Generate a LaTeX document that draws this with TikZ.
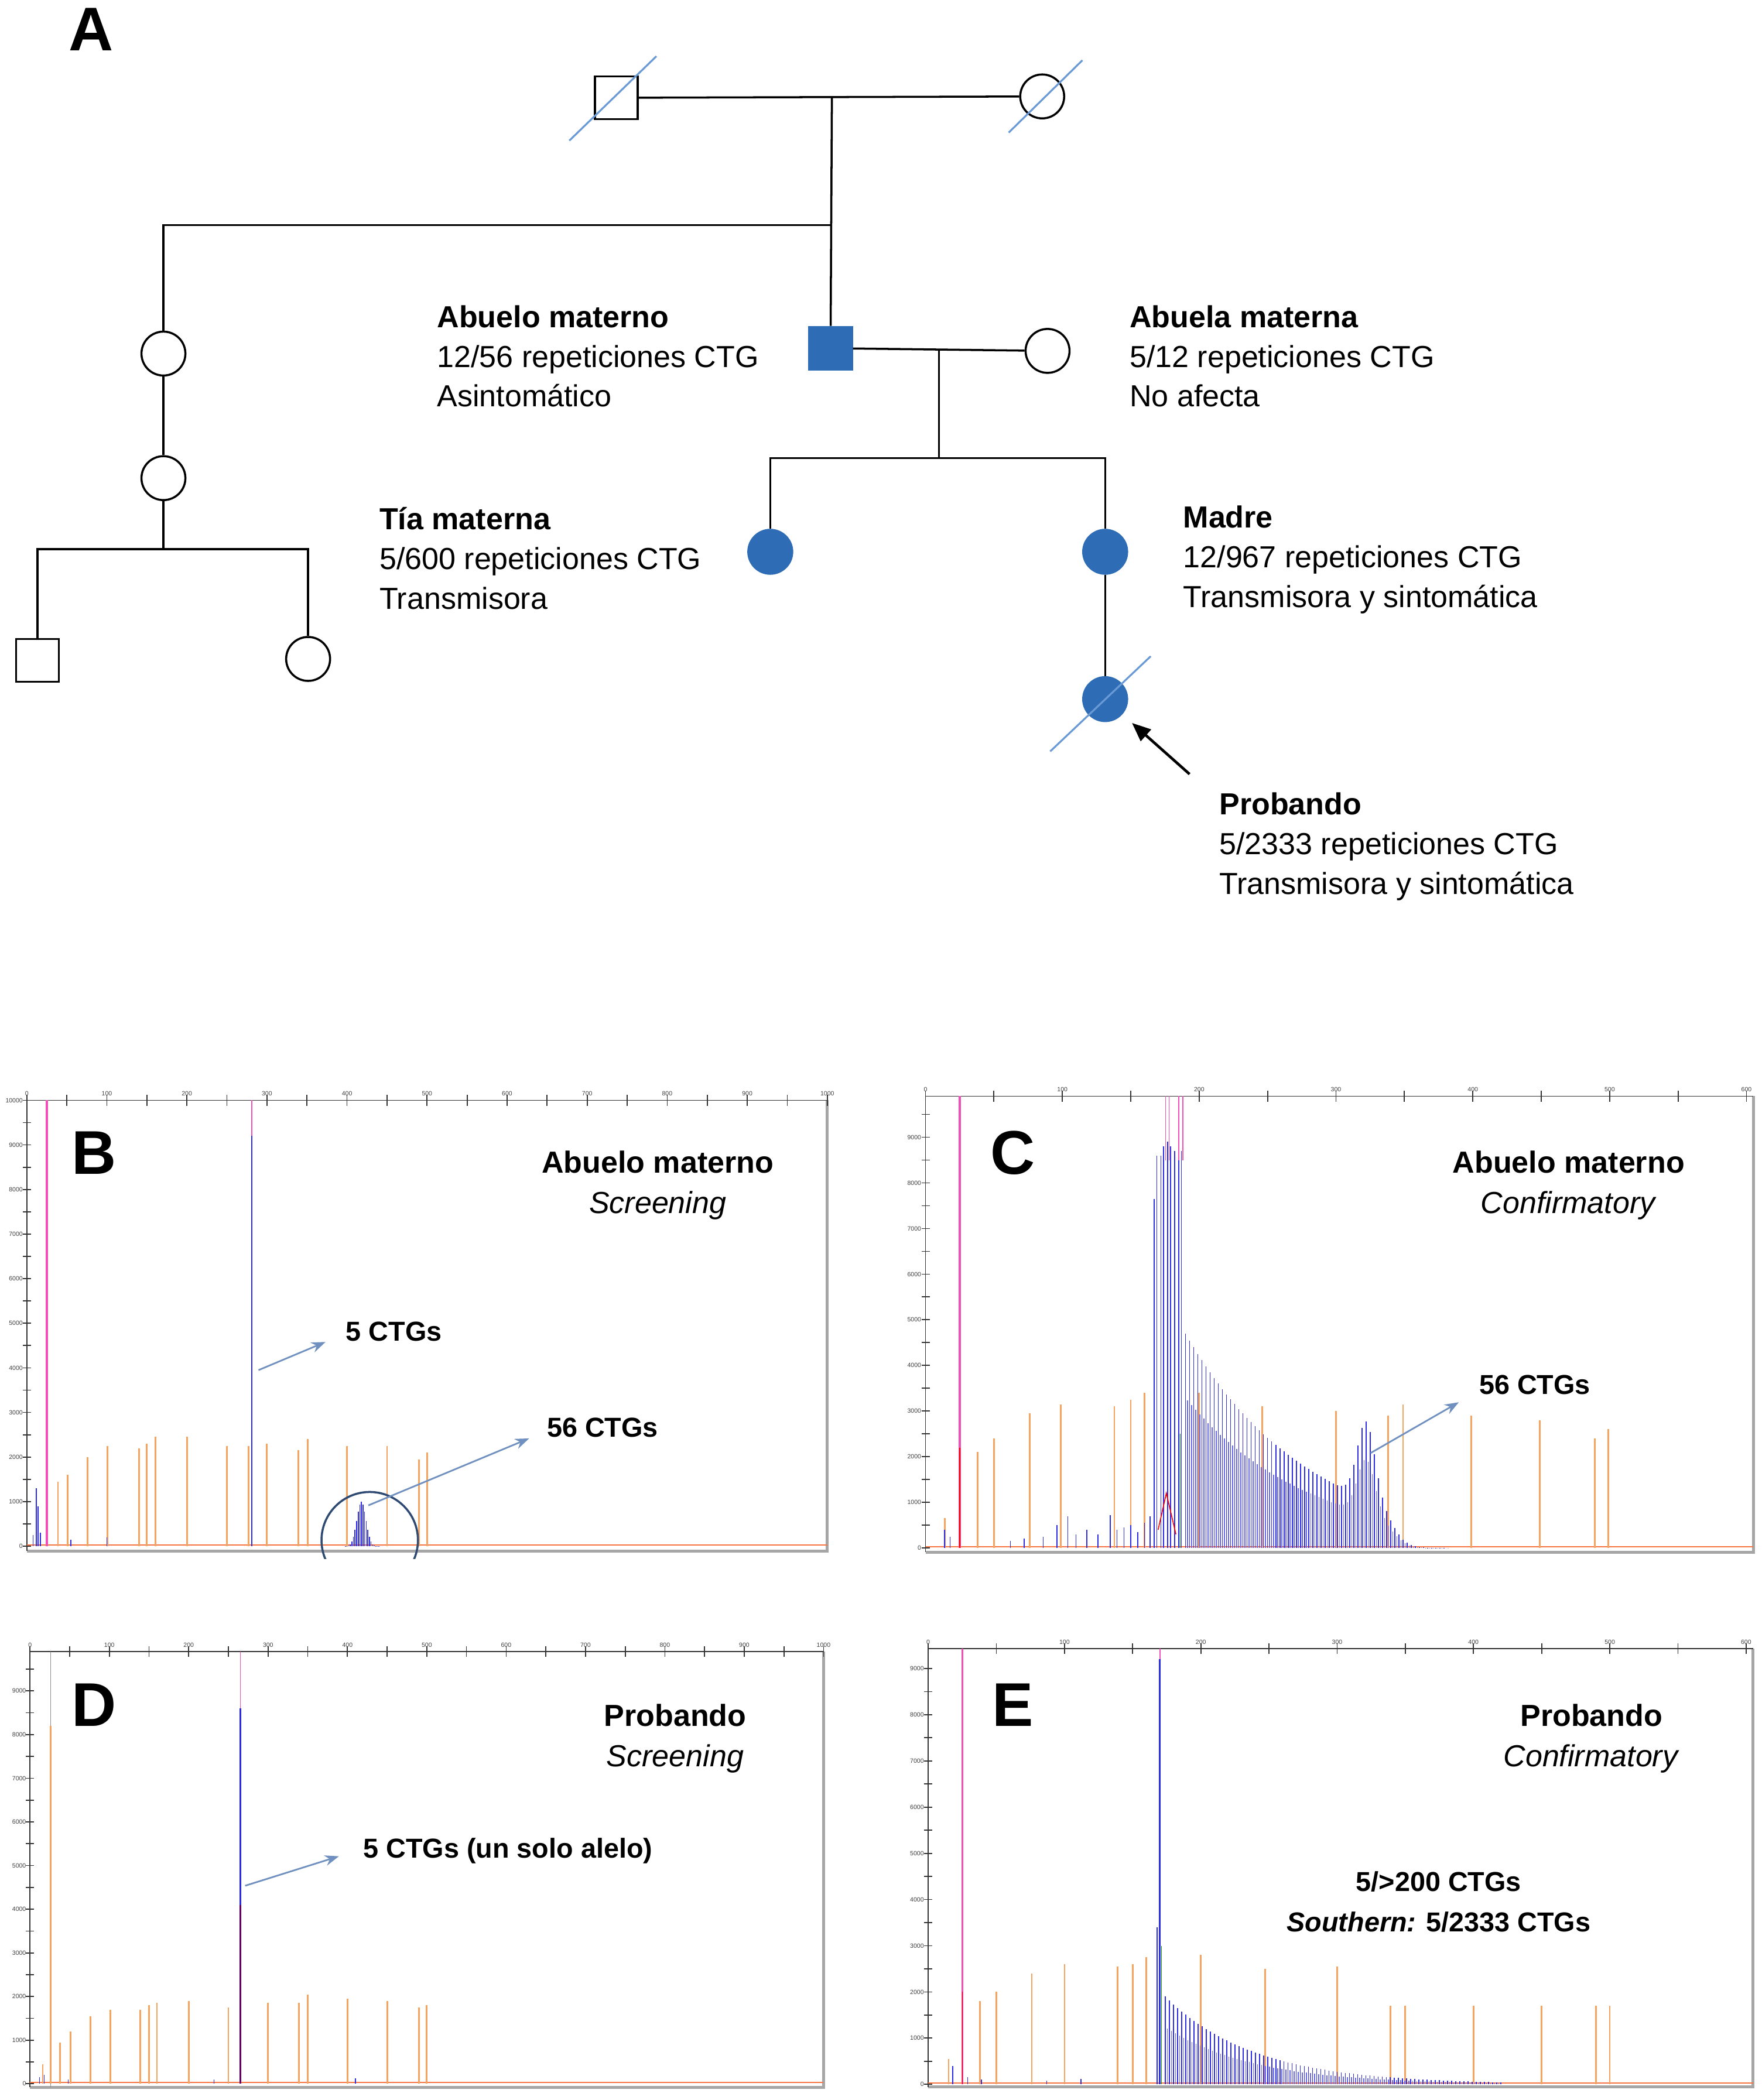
\documentclass[tikz,border=0pt]{standalone}
\usepackage{fontspec}
\setmainfont{Liberation Sans}
\usetikzlibrary{positioning,arrows.meta}
\definecolor{pedblue}{HTML}{2E6DB6}
\definecolor{slashblue}{HTML}{6A9AD6}
\definecolor{callblue}{HTML}{7090C0}
\definecolor{ringblue}{HTML}{2F4A72}
\definecolor{sizestd}{HTML}{F4A45E}
\definecolor{hotpink}{HTML}{F04FB4}
\definecolor{peakblue}{HTML}{2B2BE6}
\definecolor{peaklight}{HTML}{6666EE}
\tikzset{male/.style={rectangle,draw,line width=1pt,minimum size=0.73cm,inner sep=0pt},
	 female/.style={circle,draw,line width=1pt,minimum size=0.75cm,inner sep=0pt},
	 affected/.style={fill=pedblue,draw=pedblue},
	 rel/.style={line width=1pt},
	 dead/.style={draw=slashblue,line width=0.9pt},
	 info/.style={font=\fontsize{14.8}{19.3}\selectfont,align=left,inner sep=0pt,anchor=west},
	 panel/.style={font=\fontsize{30}{30}\selectfont\bfseries,inner sep=0pt},
	 ptitle/.style={font=\fontsize{14.8}{19.5}\selectfont,align=center,inner sep=0pt},
	 ctg/.style={font=\fontsize{13.3}{19.5}\selectfont\bfseries,inner sep=0pt},
	 callout/.style={draw=callblue,line width=0.8pt,-{Stealth[length=2.4mm,width=1.8mm]}},
	 ticklab/.style={font=\fontsize{3}{3}\selectfont,inner sep=0.6pt,text=black!75},
	 axisline/.style={line width=0.5pt,black!80},
	 frameline/.style={line width=1.4pt,black!35},
	 std/.style={draw=sizestd,line width=0.8pt},
	 peak/.style={draw=peakblue,line width=0.8pt},
	 thin/.style={line width=0.45pt},
	 hot/.style={draw=hotpink,line width=1pt},
	 noise/.style={draw=sizestd!70!red,line width=0.5pt}
	 }

\begin{document}
\begin{tikzpicture}[x=0.022875cm,y=-0.022875cm] % pedigree and fragment analysis
\useasboundingbox (0,0) rectangle (1315,1568);
% --- A: pedigree
\node[panel] (la) at (68,22) {A};
\node[male] (bisab) at (460,73) {};
\node[female] (bisaba) at (778,72) {};
\node[female] (tiabuela) at (122,264) {};
\node[female] (prima) at (122,357) {};
\node[male] (nieto) at (28,493) {};
\node[female] (nieta) at (230,492) {};
\node[male,affected] (abuelo) at (620,260) {};
\node[female] (abuela) at (782,262) {};
\node[female,affected] (tia) at (575,412) {};
\node[female,affected] (madre) at (825,412) {};
\node[female,affected] (probando) at (825,522) {};
\coordinate (c1) at (621,73);
\coordinate (s1) at (621,168);
\coordinate (s0) at (122,168);
\coordinate (p1) at (122,410);
\coordinate (p0) at (28,410);
\coordinate (p2) at (230,410);
\coordinate (m1) at (701,261);
\coordinate (m2) at (701,342);
\coordinate (parr) at (888,578);
\draw[rel] (bisab) -- (bisaba);
\draw[rel] (c1) -- (abuelo);
\draw[rel] (s1) -- (s0) -- (tiabuela);
\draw[rel] (tiabuela) -- (prima);
\draw[rel] (prima) -- (p1);
\draw[rel] (nieto) -- (p0) -- (p2) -- (nieta);
\draw[rel] (abuelo) -- (abuela);
\draw[rel] (m1) -- (m2);
\draw[rel] (tia) -- (tia |- m2) -- (madre |- m2) -- (madre);
\draw[rel] (madre) -- (probando);
\draw[dead] ([shift={(-35,32)}]bisab.center) -- ([shift={(30,-31)}]bisab.center);
\draw[dead] ([shift={(-25,27)}]bisaba.center) -- ([shift={(30,-27)}]bisaba.center);
\draw[dead] ([shift={(-41,39)}]probando.center) -- ([shift={(34,-32)}]probando.center);
\draw[line width=1.3pt,-{Triangle[length=3.2mm,width=2.6mm]},shorten >=0.22cm] (parr) -- (probando);
\node[info] (tabuelo) at (326,266) {\textbf{Abuelo materno}\\12/56 repeticiones CTG\\Asintomático};
\node[info] (tabuela) at (843,266) {\textbf{Abuela materna}\\5/12 repeticiones CTG\\No afecta};
\node[info] (ttia) at (283,417) {\textbf{Tía materna}\\5/600 repeticiones CTG\\Transmisora};
\node[info] (tmadre) at (883,418) {\textbf{Madre}\\12/967 repeticiones CTG\\Transmisora y sintomática};
\node[info] (tprob) at (910,632) {\textbf{Probando}\\5/2333 repeticiones CTG\\Transmisora y sintomática};

% --- B: abuelo, screening
\begin{scope}[shift={(20,1154.5)},xscale=0.5976,yscale=-0.0333]
  \draw[frameline] (0,-105) -- (1000,-105) -- (1000,10000);
  \draw[axisline] (0,-105) -- (0,10000) -- (1000,10000);
  \foreach \t in {0,50,...,1000} \draw[axisline] (\t,9880) -- (\t,10120);
  \foreach \t in {0,100,...,1000} \node[ticklab,above] (bx\t) at (\t,10060) {\t};
  \foreach \v in {0,500,...,10000} \draw[axisline] (-5,\v) -- (5,\v);
  \foreach \v in {0,1000,...,10000} \node[ticklab,left] (by\v) at (-3,\v) {\v};
  \draw[noise] (0,30) -- (1000,30);
  \foreach \x/\h in {39/1450,51/1600,76/2000,101/2250,140/2200,150/2300,161/2450,200/2450,250/2250,277/2250,300/2300,339/2150,351/2400,400/2250,450/2250,490/1950,500/2100}
    \draw[std] (\x,0) -- (\x,\h);
  \draw[hot] (25,0) -- (25,10000);
  \foreach \x/\h in {8/250,12/1300,14/900,17/300,55/150,100/200}
    \draw[peak,thin] (\x,0) -- (\x,\h);
  \draw[peak] (281,0) -- (281,9200);
  \draw[hot,thin] (281,9200) -- (281,10000);
  \foreach \x in {398,400,...,444}
    \draw[peak,thin] (\x,0) -- (\x,{1000*exp(-((\x-418)/8)*((\x-418)/8))});
\end{scope}
\begin{scope}
  \clip (200,1090) rectangle (340,1164);
  \draw[draw=ringblue,line width=1pt] (276,1150) circle [radius=36];
\end{scope}
\node[panel] (lb) at (70,861) {B};
\node[ptitle] (tb) at (491,885) {\textbf{Abuelo materno}\\\textit{Screening}};
\coordinate (b1s) at (193,1023);
\coordinate (b1e) at (243,1002);
\coordinate (b2s) at (275,1124);
\coordinate (b2e) at (395,1074);
\draw[callout] (b1s) -- (b1e);
\draw[callout] (b2s) -- (b2e);
\node[ctg,anchor=west] (b5) at (258,994) {5 CTGs};
\node[ctg,anchor=west] (b56) at (408,1066) {56 CTGs};

% --- C: abuelo, confirmatory
\begin{scope}[shift={(690.9,1155.8)},xscale=1.0214,yscale=-0.03408]
  \draw[frameline] (0,-94) -- (605,-94) -- (605,9900);
  \draw[axisline] (0,-94) -- (0,9900) -- (605,9900);
  \foreach \t in {0,50,...,600} \draw[axisline] (\t,9780) -- (\t,10020);
  \foreach \t in {0,100,...,600} \node[ticklab,above] (cx\t) at (\t,9960) {\t};
  \foreach \v in {0,500,...,9500} \draw[axisline] (-3,\v) -- (3,\v);
  \foreach \v in {0,1000,...,9000} \node[ticklab,left] (cy\v) at (-2,\v) {\v};
  \draw[noise] (0,30) -- (605,30);
  \foreach \x/\h in {14/650,38/2100,50/2400,76/2950,99/3150,138/3100,150/3250,160/3400,200/3400,246/3100,300/3000,338/2900,349/3150,399/2900,449/2800,489/2400,499/2600}
    \draw[std] (\x,0) -- (\x,\h);
  \draw[hot] (25,0) -- (25,9900);
  \draw[red,thin] (25,0) -- (25,2200);
  \foreach \x/\h in {14/400,18/250,62/150,72/200,86/250,96/500,104/700,110/300,118/400,126/300,135/720,140/400,145/450,150/500,155/350,160/550,164/700}
    \draw[peak,thin] (\x,0) -- (\x,\h);
  \foreach \x/\h in {167/7650,169/8600,172/8600,174/8800,177/8900,179/8800,182/8700,185/8650,187/8700}
    \draw[peak,thin] (\x,0) -- (\x,\h);
  \foreach \x in {175.5,178,185,188} \draw[hot,thin] (\x,8500) -- (\x,9900);
  \foreach \x in {191.5,194.5,...,382}
    \draw[draw=peaklight,thin] (\x,0) -- (\x,{0.7*(4700*exp(-(\x-190)/90)/(1+exp((\x-343)/5))+1700*exp(-((\x-322)/9)*((\x-322)/9)))});
  \foreach \x in {190,193,...,382}
    \draw[peak,thin] (\x,0) -- (\x,{4700*exp(-(\x-190)/90)/(1+exp((\x-343)/5))+1700*exp(-((\x-322)/9)*((\x-322)/9))});
  \draw[green!60!black,line width=0.3pt] (186,0) -- (186,2500);
  \draw[red,thin] (170,400) -- (176,1200) -- (183,300);
\end{scope}
\node[panel] (lc) at (756,861) {C};
\node[ptitle] (tc) at (1171,885) {\textbf{Abuelo materno}\\\textit{Confirmatory}};
\coordinate (c56s) at (1023,1085);
\coordinate (c56e) at (1089,1047);
\draw[callout] (c56s) -- (c56e);
\node[ctg,anchor=west] (c56) at (1104,1034) {56 CTGs};

% --- D: probando, screening
\begin{scope}[shift={(22.4,1555.9)},xscale=0.5924,yscale=-0.0326]
  \draw[frameline] (0,-80) -- (1000,-80) -- (1000,9900);
  \draw[axisline] (0,-80) -- (0,9900) -- (1000,9900);
  \foreach \t in {0,50,...,1000} \draw[axisline] (\t,9780) -- (\t,10020);
  \foreach \t in {0,100,...,1000} \node[ticklab,above] (dx\t) at (\t,9960) {\t};
  \foreach \v in {0,500,...,9500} \draw[axisline] (-5,\v) -- (5,\v);
  \foreach \v in {0,1000,...,9000} \node[ticklab,left] (dy\v) at (-3,\v) {\v};
  \draw[noise] (0,30) -- (1000,30);
  \draw[black!45,thin] (26,-80) -- (26,9900);
  \draw[std] (26,0) -- (26,8200);
  \foreach \x/\h in {16/450,38/950,51/1200,76/1550,101/1700,139/1700,150/1800,160/1850,200/1900,250/1750,300/1850,339/1850,350/2050,400/1950,450/1900,490/1750,500/1800}
    \draw[std] (\x,0) -- (\x,\h);
  \foreach \x/\h in {12/150,18/200,48/100,232/100,410/120}
    \draw[peak,thin] (\x,0) -- (\x,\h);
  \draw[draw=violet!80!black,line width=0.9pt] (265,0) -- (265,4100);
  \draw[peak] (265,4100) -- (265,8600);
  \draw[hot,thin] (265,8600) -- (265,9900);
\end{scope}
\node[panel] (ld) at (70,1273) {D};
\node[ptitle] (td) at (504,1298) {\textbf{Probando}\\\textit{Screening}};
\coordinate (d5s) at (183,1408);
\coordinate (d5e) at (253,1386);
\draw[callout] (d5s) -- (d5e);
\node[ctg,anchor=west] (d5) at (271,1382) {5 CTGs (un solo alelo)};

% --- E: probando, confirmatory
\begin{scope}[shift={(692.9,1556.3)},xscale=1.0176,yscale=-0.0345]
  \draw[frameline] (0,-55) -- (605,-55) -- (605,9430);
  \draw[axisline] (0,-55) -- (0,9430) -- (605,9430);
  \foreach \t in {0,50,...,600} \draw[axisline] (\t,9320) -- (\t,9540);
  \foreach \t in {0,100,...,600} \node[ticklab,above] (ex\t) at (\t,9490) {\t};
  \foreach \v in {0,500,...,9000} \draw[axisline] (-3,\v) -- (3,\v);
  \foreach \v in {0,1000,...,9000} \node[ticklab,left] (ey\v) at (-2,\v) {\v};
  \draw[noise] (0,30) -- (605,30);
  \foreach \x/\h in {15/550,38/1800,50/2000,76/2400,100/2600,139/2550,150/2600,160/2750,200/2800,247/2500,300/2550,339/1700,350/1700,400/1700,450/1700,490/1700,500/1700}
    \draw[std] (\x,0) -- (\x,\h);
  \draw[hot] (25,0) -- (25,9430);
  \draw[red,thin] (25,0) -- (25,2000);
  \foreach \x/\h in {18/400,29/150,39/100,87/80,112/120}
    \draw[peak,thin] (\x,0) -- (\x,\h);
  \foreach \x in {175.5,178.5,...,420}
    \draw[draw=peaklight,thin] (\x,0) -- (\x,{0.65*1900*exp(-(\x-174)/65)});
  \foreach \x in {174,177,...,420}
    \draw[peak,thin] (\x,0) -- (\x,{1900*exp(-(\x-174)/65)});
  \draw[green!60!black,line width=0.3pt] (171,0) -- (171,3000);
  \draw[peak,thin] (168,0) -- (168,3400);
  \draw[peak] (170,0) -- (170,9200);
  \draw[hot,thin] (170,9200) -- (170,9430);
\end{scope}
\node[panel] (le) at (756,1273) {E};
\node[ptitle] (te) at (1188,1298) {\textbf{Probando}\\\textit{Confirmatory}};
\node[ctg,align=center] (e5) at (1074,1420) {5/>200 CTGs\\\textit{Southern:} 5/2333 CTGs};
\end{tikzpicture}
\end{document}
